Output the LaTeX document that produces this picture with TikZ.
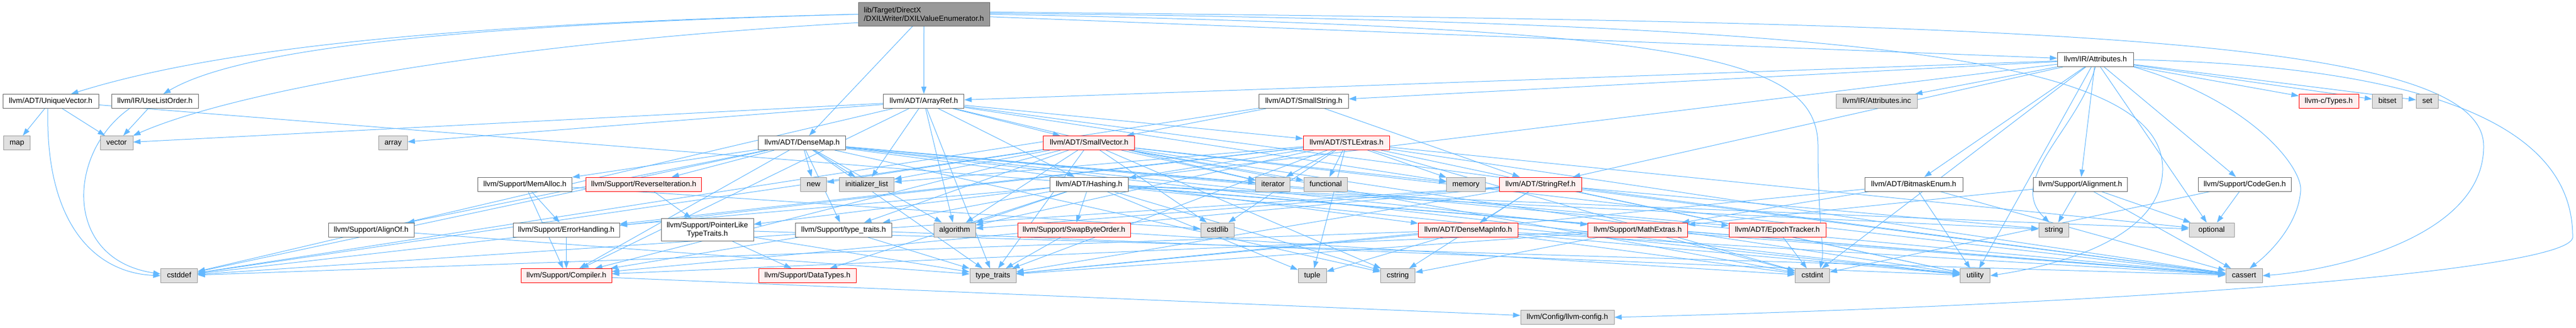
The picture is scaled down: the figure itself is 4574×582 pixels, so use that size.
\documentclass[tikz,border=0pt]{standalone}
\usepackage{fontspec}
\setmainfont{Liberation Sans}
\usetikzlibrary{arrows.meta}
\pgfdeclarelayer{bg}
\pgfsetlayers{bg,main}
\definecolor{edgec}{HTML}{63B8FF}
\definecolor{bordc}{HTML}{666666}
\definecolor{sysb}{HTML}{999999}
\definecolor{sysf}{HTML}{E0E0E0}
\definecolor{trf}{HTML}{FFF0F0}
\definecolor{rootf}{HTML}{999999}
\newcommand\nfont{\fontsize{13.33}{15}\selectfont}
\tikzset{
  box/.style={draw=bordc, fill=white, line width=0.9pt, minimum height=25pt, inner xsep=1pt, inner ysep=0pt, text height=9.6pt, text depth=2.6pt, font=\nfont},
  sysbox/.style={box, draw=sysb, fill=sysf},
  trbox/.style={box, draw=red, fill=trf},
  twobox/.style={draw=bordc, fill=white, line width=0.9pt, inner xsep=1pt, inner ysep=0pt, font=\nfont},
  e/.style={draw=edgec, line width=1pt, -{Triangle[length=13pt,width=9pt]}},
}
\begin{document}
\begin{tikzpicture}[x=1pt,y=-1pt]
\useasboundingbox (0,0) rectangle (4574,582);
% row 0
\node[twobox, fill=rootf, align=left, minimum width=233pt, minimum height=41.3pt] (root) at (1640.5,25.3) {lib/Target/DirectX\\/DXILWriter/DXILValueEnumerator.h};
% row 1
\node[box, minimum width=135pt] (attr) at (3720.6,106) {llvm/IR/Attributes.h};
% row 2
\node[box, minimum width=170pt] (uv) at (90,180) {llvm/ADT/UniqueVector.h};
\node[box, minimum width=154pt] (ulo) at (275,180) {llvm/IR/UseListOrder.h};
\node[box, minimum width=143pt] (aref) at (1640.4,180) {llvm/ADT/ArrayRef.h};
\node[box, minimum width=159pt] (sstr) at (2315,180) {llvm/ADT/SmallString.h};
\node[sysbox, minimum width=144pt] (ainc) at (3332.5,180) {llvm/IR/Attributes.inc};
\node[trbox, minimum width=106pt] (ctypes) at (4135,180) {llvm-c/Types.h};
\node[sysbox, minimum width=53.5pt] (bitset) at (4239,180) {bitset};
\node[sysbox, minimum width=39.5pt] (set) at (4310,180) {set};
% row 3
\node[sysbox, minimum width=46.5pt] (map) at (30,254) {map};
\node[sysbox, minimum width=58pt] (vector) at (207,254) {vector};
\node[sysbox, minimum width=50.5pt] (array) at (698,254) {array};
\node[box, minimum width=155pt] (dmap) at (1424.4,254) {llvm/ADT/DenseMap.h};
\node[trbox, minimum width=162pt] (svec) at (1933.8,254) {llvm/ADT/SmallVector.h};
\node[trbox, minimum width=153.6pt] (stlx) at (2391,254) {llvm/ADT/STLExtras.h};
% row 4
\node[box, minimum width=167.5pt] (malloc) at (932,327.5) {llvm/Support/MemAlloc.h};
\node[trbox, minimum width=205pt] (revit) at (1143,327.5) {llvm/Support/ReverseIteration.h};
\node[sysbox, minimum width=45.6pt] (new) at (1444.6,327.5) {new};
\node[sysbox, minimum width=96.5pt] (initl) at (1539,327.5) {initializer\_list};
\node[box, minimum width=139.6pt] (hash) at (1933.8,327.5) {llvm/ADT/Hashing.h};
\node[sysbox, minimum width=61pt] (iter) at (2260.4,327.5) {iterator};
\node[sysbox, minimum width=77.7pt] (func) at (2354,327.5) {functional};
\node[sysbox, minimum width=68.4pt] (memory) at (2603,327.5) {memory};
\node[trbox, minimum width=146pt] (sref) at (2735.4,327.5) {llvm/ADT/StringRef.h};
\node[box, minimum width=174pt] (bme) at (3398,327.5) {llvm/ADT/BitmaskEnum.h};
\node[box, minimum width=167.6pt] (align) at (3694,327.5) {llvm/Support/Alignment.h};
\node[box, minimum width=164.6pt] (cgen) at (3985.7,327.5) {llvm/Support/CodeGen.h};
% row 5
\node[box, minimum width=152pt] (alignof) at (659,408.5) {llvm/Support/AlignOf.h};
\node[box, minimum width=189pt] (errh) at (1005.5,408.5) {llvm/Support/ErrorHandling.h};
\node[twobox, align=center, minimum width=164pt, minimum height=40pt] (plt) at (1256,408.5) {llvm/Support/PointerLike\\TypeTraits.h};
\node[box, minimum width=171pt] (stt) at (1497.8,408.5) {llvm/Support/type\_traits.h};
\node[sysbox, minimum width=74pt] (algo) at (1695,408.5) {algorithm};
\node[trbox, minimum width=200pt] (sbo) at (1907,408.5) {llvm/Support/SwapByteOrder.h};
\node[sysbox, minimum width=59.5pt] (cstdlib) at (2162,408.5) {cstdlib};
\node[trbox, minimum width=177pt] (dmi) at (2607,408.5) {llvm/ADT/DenseMapInfo.h};
\node[trbox, minimum width=177pt] (mext) at (2908,408.5) {llvm/Support/MathExtras.h};
\node[trbox, minimum width=172pt] (epoch) at (3156,408.5) {llvm/ADT/EpochTracker.h};
\node[sysbox, minimum width=53.7pt] (string) at (3647,408.5) {string};
\node[sysbox, minimum width=80pt] (optional) at (3927,408.5) {optional};
% row 6
\node[sysbox, minimum width=65pt] (cstddef) at (318,490) {cstddef};
\node[trbox, minimum width=160.6pt] (comp) at (1005.7,490) {llvm/Support/Compiler.h};
\node[trbox, minimum width=173pt] (dtypes) at (1433.6,490) {llvm/Support/DataTypes.h};
\node[sysbox, minimum width=82pt] (tt) at (1763,490) {type\_traits};
\node[sysbox, minimum width=50pt] (tuple) at (2330,490) {tuple};
\node[sysbox, minimum width=61pt] (cstring) at (2482,490) {cstring};
\node[sysbox, minimum width=61pt] (cstdint) at (3218,490) {cstdint};
\node[sysbox, minimum width=53pt] (utility) at (3507,490) {utility};
\node[sysbox, minimum width=65pt] (cassert) at (3984.5,490) {cassert};
% row 7
\node[sysbox, minimum width=166pt] (lcfg) at (2783,564) {llvm/Config/llvm-config.h};

\begin{pgfonlayer}{bg}
% root
\foreach \t in {aref,dmap,attr} \draw[e] (root) -- (\t);
\draw[e] (root.west) .. controls (900,40) and (420,75) .. ([xshift=36pt]uv.north);
\draw[e] (root.west) .. controls (900,42) and (440,78) .. ([xshift=15pt]ulo.north);
\draw[e] ([yshift=-15pt]root.west) .. controls (900,75) and (420,160) .. (vector.north east);
\draw[e] (root.east) .. controls (3000,50) and (3228,100) .. (3228,260) .. controls (3228,400) and (3240,440) .. ([xshift=14pt]cstdint.north);
\draw[e] ([yshift=4pt]root.east) .. controls (3600,40) and (4410,60) .. (4410,260) .. controls (4410,420) and (4150,480) .. (cassert.east);
\draw[e] ([yshift=2pt]root.east) .. controls (3300,40) and (3840,100) .. (3840,300) .. controls (3840,440) and (3600,480) .. (utility.east);
% Attributes.h
\foreach \t in {ctypes,bitset,set,ainc,aref,sstr,bme,sref,align,cgen,plt,optional,cstdint,utility} \draw[e] (attr) -- (\t);
\draw[e] (attr.south) .. controls (3690,230) and (3560,320) .. ([xshift=-8pt]string.north);
\draw[e] (attr.south east) .. controls (4000,180) and (4090,300) .. (4085,340) .. controls (4080,400) and (4030,450) .. ([xshift=10pt]cassert.north);
\draw[e] (attr.east) .. controls (4400,120) and (4568,260) .. (4568,420) .. controls (4580,480) and (3800,540) .. (lcfg.east);
% UniqueVector / UseListOrder
\foreach \t in {map,vector,cassert} \draw[e] (uv) -- (\t);
\draw[e] ([xshift=-5pt]uv.south) .. controls (80,400) and (170,485) .. (cstddef.west);
\draw[e] (ulo) -- (vector);
\draw[e] ([xshift=-45pt]ulo.south) .. controls (120,270) and (110,460) .. ([yshift=3pt]cstddef.west);
% ArrayRef
\foreach \t in {hash,svec,stlx,comp,algo,array,cassert,cstddef,initl,iter,memory,tt,vector} \draw[e] (aref) -- (\t);
% DenseMap
\foreach \t in {dmi,epoch,alignof,comp,mext,malloc,revit,stt,algo,cassert,cstddef,cstring,initl,iter,new,tt,utility} \draw[e] (dmap) -- (\t);
% SmallVector
\foreach \t in {comp,stt,algo,cassert,cstddef,cstdlib,cstring,func,initl,iter,memory,new,tt,utility,cstdint} \draw[e] (svec) -- (\t);
% STLExtras
\foreach \t in {hash,errh,algo,cassert,cstddef,cstdint,cstdlib,func,initl,iter,memory,optional,tuple,tt,utility} \draw[e] (stlx) -- (\t);
% Hashing
\foreach \t in {dtypes,errh,sbo,stt,algo,cassert,cstring,optional,string,tuple,utility} \draw[e] (hash) -- (\t);
% others
\foreach \t in {cstdint,tt} \draw[e] (sbo) -- (\t);
\foreach \t in {comp,errh,cstdlib} \draw[e] (malloc) -- (\t);
\draw[e] (errh) -- (comp);
\draw[e] (alignof) -- (tt);
\draw[e] (revit) -- (plt);
\foreach \t in {dtypes,cassert,tt} \draw[e] (plt) -- (\t);
\foreach \t in {comp,tt,utility} \draw[e] (stt) -- (\t);
\draw[e] (comp) -- (lcfg);
\foreach \t in {cassert,cstddef,cstdint,tuple,tt,utility} \draw[e] (dmi) -- (\t);
\foreach \t in {comp,cassert,cstdint,cstring,tt} \draw[e] (mext) -- (\t);
\draw[e] (epoch) -- (cstdint);
\foreach \t in {dmi,comp,algo,cassert,cstddef,cstring,string,tt,utility} \draw[e] (sref) -- (\t);
\foreach \t in {svec,sref,cstddef} \draw[e] (sstr) -- (\t);
\foreach \t in {mext,cassert,tt,utility} \draw[e] (bme) -- (\t);
\foreach \t in {mext,cassert,optional,string} \draw[e] (align) -- (\t);
\foreach \t in {cstdint,optional} \draw[e] (cgen) -- (\t);
\end{pgfonlayer}
\end{tikzpicture}
\end{document}
